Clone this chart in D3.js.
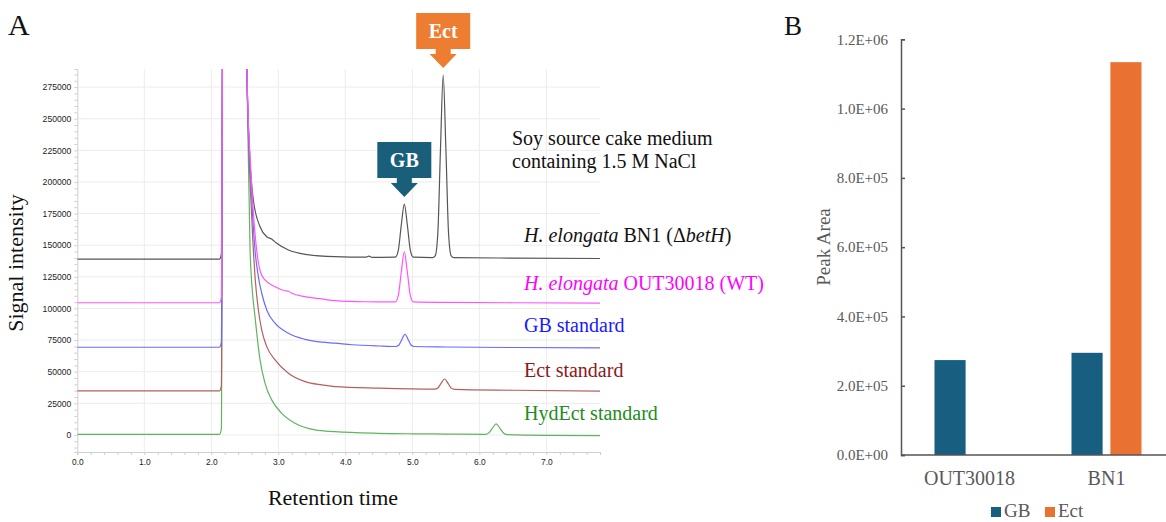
<!DOCTYPE html>
<html>
<head>
<meta charset="utf-8">
<script src="https://cdn.jsdelivr.net/npm/d3@7"></script>
<style>
  html, body { margin: 0; padding: 0; background: #fff; }
  svg { display: block; }
</style>
</head>
<body>
<svg id="chart" width="1166" height="522"></svg>
<script>
// ---------------- DATA ----------------
// Panel A: chromatogram traces, [retention time (min), signal]
const traceBN1 = [[0,139000],[2.12,139000],[2.15,143000],[2.175,400000],[2.50,400000],[2.53,290000],[2.577,217000],[2.627,185700],[2.727,164600],[2.827,156700],[2.90,154900],[2.976,151500],[3.15,146200],[3.40,142800],[3.85,140900],[4.30,140500],[4.35,141300],[4.40,140400],[4.745,140500],[4.79,146000],[4.835,166000],[4.88,182500],[4.925,166000],[4.97,146000],[5.015,140500],[5.30,140200],[5.34,141600],[5.38,159500],[5.42,226600],[5.46,284500],[5.50,226600],[5.54,159500],[5.58,141600],[5.62,140200],[6.5,139800],[7.8,139500]];
const traceWT = [[0,104500],[2.12,104500],[2.15,108500],[2.175,400000],[2.50,400000],[2.53,290000],[2.60,200000],[2.677,146000],[2.727,130000],[2.801,122500],[2.951,117200],[3.10,114000],[3.15,113600],[3.20,112000],[3.40,109300],[3.648,107500],[3.846,106100],[4.30,105300],[4.745,105200],[4.79,110200],[4.835,128800],[4.88,144800],[4.925,128800],[4.97,110200],[5.015,105200],[5.5,104800],[6.5,104500],[7.8,104200]];
const traceGBstd = [[0,69300],[2.12,69300],[2.15,73300],[2.175,400000],[2.50,400000],[2.53,290000],[2.60,190000],[2.652,146000],[2.702,125000],[2.752,112000],[2.827,98800],[2.951,88300],[3.15,80400],[3.40,75600],[3.648,73300],[3.846,72500],[4.10,71300],[4.50,70300],[4.75,69900],[4.80,71100],[4.845,75700],[4.89,79600],[4.935,75700],[4.98,71100],[5.03,69900],[5.5,69500],[6.5,69100],[7.8,68800]];
const traceEctStd = [[0,34800],[2.12,34800],[2.15,38800],[2.175,400000],[2.50,400000],[2.53,290000],[2.60,175000],[2.627,146000],[2.652,125000],[2.702,98800],[2.752,83000],[2.827,69800],[2.951,59300],[3.15,48800],[3.40,42100],[3.648,39500],[3.846,38200],[4.50,37000],[5.33,36200],[5.38,37100],[5.43,41000],[5.48,44200],[5.53,41000],[5.58,37000],[5.63,36000],[6.5,35300],[7.8,34600]];
const traceHydEctStd = [[0,500],[2.12,500],[2.15,4500],[2.175,400000],[2.50,400000],[2.53,290000],[2.578,146000],[2.603,120000],[2.652,93500],[2.727,59300],[2.801,40900],[2.901,27700],[3.051,17100],[3.249,9200],[3.548,4000],[3.846,2600],[4.50,1300],[5.0,900],[5.5,700],[6.09,450],[6.14,1600],[6.195,5400],[6.25,8700],[6.305,5400],[6.36,1500],[6.41,300],[7.0,-300],[7.8,-500]];

const traceNames = ["BN1","HydEct standard","Ect standard","GB standard","WT"];
const signalTicks = [0,25000,50000,75000,100000,125000,150000,175000,200000,225000,250000,275000];
const timeTicks = [0,1,2,3,4,5,6,7];

// Peak annotations (retention time, peak signal)
const peakLabels = ["GB","Ect"];
const peakTimes = [4.88, 5.46];
const peakSignals = [182500, 284500];

// Panel B: peak areas
const strains = ["OUT30018","BN1"];
const solutes = ["GB","Ect"];
const gbArea = [274000, 295000];
const ectArea = [0, 1134000];
const areaTicks = [0, 200000, 400000, 600000, 800000, 1000000, 1200000];

// ---------------- DRAW ----------------
const svg = d3.select("#chart");
const serif = "'Liberation Serif','Times New Roman',Times,serif";
const sans = "'Liberation Sans',Arial,Helvetica,sans-serif";

// ----- Panel A -----
const xA = d3.scaleLinear().domain([0, 7.8]).range([77.3, 600]);
const yA = d3.scaleLinear().domain([-13500, 289300]).range([452, 69]);

const gA = svg.append("g");

// gridlines
gA.append("g").selectAll("line").data(signalTicks).join("line")
  .attr("x1", xA(0)).attr("x2", xA(7.8))
  .attr("y1", d => yA(d)).attr("y2", d => yA(d))
  .attr("stroke", "#ececec").attr("stroke-width", 1);
gA.append("g").selectAll("line").data(timeTicks.slice(1)).join("line")
  .attr("x1", d => xA(d)).attr("x2", d => xA(d))
  .attr("y1", yA.range()[1]).attr("y2", yA.range()[0])
  .attr("stroke", "#ececec").attr("stroke-width", 1);

// y axis (minor ticks every 5000)
const yAxisA = d3.axisLeft(yA)
  .tickValues(d3.range(-10000, 289300, 5000))
  .tickSize(3)
  .tickFormat(d => signalTicks.includes(d) ? String(d) : "");
const gyA = gA.append("g").attr("transform", `translate(${xA(0)},0)`).call(yAxisA);
gyA.select(".domain").attr("stroke", "#cfcfcf");
gyA.selectAll(".tick line").attr("stroke", "#cfcfcf");
gyA.selectAll(".tick text").attr("font-family", sans).attr("font-size", 8.6)
  .attr("fill", "#222").attr("x", -6);

// x axis (minor ticks every 0.2)
const xAxisA = d3.axisBottom(xA)
  .tickValues(d3.range(0, 7.81, 0.2).map(v => +v.toFixed(1)))
  .tickSize(3)
  .tickFormat(d => Number.isInteger(d) ? d3.format(".1f")(d) : "");
const gxA = gA.append("g").attr("transform", `translate(0,${yA.range()[0]})`).call(xAxisA);
gxA.select(".domain").attr("stroke", "#cfcfcf");
gxA.selectAll(".tick line").attr("stroke", "#cfcfcf");
gxA.selectAll(".tick text").attr("font-family", sans).attr("font-size", 8.4)
  .attr("fill", "#222").attr("y", 7);

// clip
svg.append("defs").append("clipPath").attr("id", "clipA").append("rect")
  .attr("x", xA(0)).attr("y", yA.range()[1])
  .attr("width", xA(7.8) - xA(0)).attr("height", yA.range()[0] - yA.range()[1]);

const traces = [traceBN1, traceHydEctStd, traceEctStd, traceGBstd, traceWT];
const traceColors = ["#555555", "#5fb55f", "#b4605c", "#6a6aff", "#ff55ff"];
const line = d3.line().x(d => xA(d[0])).y(d => yA(d[1])).curve(d3.curveMonotoneX);
gA.append("g").attr("clip-path", "url(#clipA)")
  .selectAll("path").data(traces).join("path")
  .attr("d", line)
  .attr("fill", "none")
  .attr("stroke", (d, i) => traceColors[i])
  .attr("stroke-width", 1.2)
  .attr("stroke-linejoin", "round");

// trace labels
const labelX = 524;
const lab1 = gA.append("text").attr("x", labelX).attr("y", 241.7)
  .attr("font-family", serif).attr("font-size", 20).attr("fill", "#111");
lab1.append("tspan").attr("font-style", "italic").text("H. elongata");
lab1.append("tspan").text(" BN1 (\u0394");
lab1.append("tspan").attr("font-style", "italic").text("betH");
lab1.append("tspan").text(")");

const lab2 = gA.append("text").attr("x", labelX).attr("y", 290)
  .attr("font-family", serif).attr("font-size", 20).attr("fill", "#ff00ff");
lab2.append("tspan").attr("font-style", "italic").text("H. elongata");
lab2.append("tspan").text(" OUT30018 (WT)");

gA.append("text").attr("x", labelX).attr("y", 331.7)
  .attr("font-family", serif).attr("font-size", 20).attr("fill", "#1a1aff").text("GB standard");
gA.append("text").attr("x", labelX).attr("y", 377)
  .attr("font-family", serif).attr("font-size", 20).attr("fill", "#8b1a1a").text("Ect standard");
gA.append("text").attr("x", labelX).attr("y", 420)
  .attr("font-family", serif).attr("font-size", 20).attr("fill", "#238b23").text("HydEct standard");

// medium text
gA.append("text").attr("x", 512).attr("y", 145)
  .attr("font-family", serif).attr("font-size", 20).attr("fill", "#111").text("Soy source cake medium");
gA.append("text").attr("x", 512).attr("y", 168)
  .attr("font-family", serif).attr("font-size", 20).attr("fill", "#111").text("containing 1.5 M NaCl");

// peak arrows
const arrowColors = ["#1a5f7a", "#ed7d31"];
peakLabels.forEach((lbl, i) => {
  const tx = xA(peakTimes[i]);
  const ty = yA(peakSignals[i]) - 7;
  const headH = 14, headW = 13.5, stemH = 5, stemW = 7.5, boxW = 27, boxH = 36;
  const yHead = ty - headH, yStem = yHead - stemH, yBox = yStem - boxH;
  const p = d3.path();
  p.moveTo(tx, ty);
  p.lineTo(tx - headW, yHead);
  p.lineTo(tx - stemW, yHead);
  p.lineTo(tx - stemW, yStem);
  p.lineTo(tx - boxW, yStem);
  p.lineTo(tx - boxW, yBox);
  p.lineTo(tx + boxW, yBox);
  p.lineTo(tx + boxW, yStem);
  p.lineTo(tx + stemW, yStem);
  p.lineTo(tx + stemW, yHead);
  p.lineTo(tx + headW, yHead);
  p.closePath();
  gA.append("path").attr("d", p.toString()).attr("fill", arrowColors[i]);
  gA.append("text").attr("x", tx).attr("y", yBox + 25)
    .attr("text-anchor", "middle").attr("font-family", serif)
    .attr("font-weight", "bold").attr("font-size", 20).attr("fill", "#fff").text(lbl);
});

// axis titles
svg.append("text").attr("x", 8).attr("y", 35)
  .attr("font-family", serif).attr("font-size", 30).attr("fill", "#111").text("A");
svg.append("text").attr("transform", "translate(23,263) rotate(-90)")
  .attr("text-anchor", "middle").attr("font-family", serif).attr("font-size", 22)
  .attr("fill", "#111").text("Signal intensity");
svg.append("text").attr("x", 333).attr("y", 505)
  .attr("text-anchor", "middle").attr("font-family", serif).attr("font-size", 22)
  .attr("fill", "#111").text("Retention time");

// ----- Panel B -----
const yB = d3.scaleLinear().domain([0, 1200000]).range([455, 39.3]);
const xB = d3.scaleBand().domain(strains).range([901, 1175]).paddingInner(0).paddingOuter(0);
const bw = xB.bandwidth();
const x1 = d3.scaleBand().domain(solutes).range([bw / 2 - 35, bw / 2 + 35]).paddingInner(0.2);
const barColors = { GB: "#175e80", Ect: "#e97233" };
const areaData = strains.map((s, i) => ({ strain: s, values: [
  { key: "GB", value: gbArea[i] }, { key: "Ect", value: ectArea[i] } ] }));

const gB = svg.append("g");

gB.selectAll("g.grp").data(areaData).join("g").attr("class", "grp")
  .attr("transform", d => `translate(${xB(d.strain)},0)`)
  .selectAll("rect").data(d => d.values.filter(v => v.value > 0)).join("rect")
  .attr("x", d => x1(d.key)).attr("width", x1.bandwidth())
  .attr("y", d => yB(d.value)).attr("height", d => yB(0) - yB(d.value))
  .attr("fill", d => barColors[d.key]);

const fmtE = v => {
  const [m, e] = v.toExponential(1).split("e");
  const sign = e[0] === "-" ? "-" : "+";
  const ex = e.replace(/[+-]/, "").padStart(2, "0");
  return `${m}E${sign}${ex}`;
};
const yAxisB = d3.axisRight(yB).tickValues(areaTicks).tickSize(4).tickFormat("");
const gyB = gB.append("g").attr("transform", "translate(901,0)").call(yAxisB);
gyB.select(".domain").attr("stroke", "#555").attr("stroke-width", 1.5);
gyB.selectAll(".tick line").attr("stroke", "#555").attr("stroke-width", 1.5);
gB.append("g").selectAll("text").data(areaTicks).join("text")
  .attr("x", 888).attr("y", d => yB(d)).attr("dy", "0.35em")
  .attr("text-anchor", "end").attr("font-family", serif).attr("font-size", 15)
  .attr("fill", "#595959").text(fmtE);

gB.append("line").attr("x1", 901).attr("x2", 1166).attr("y1", yB(0)).attr("y2", yB(0))
  .attr("stroke", "#555").attr("stroke-width", 1.5);

gB.append("g").selectAll("text").data(strains).join("text")
  .attr("x", d => xB(d) + bw / 2).attr("y", 485)
  .attr("text-anchor", "middle").attr("font-family", serif).attr("font-size", 20)
  .attr("fill", "#595959").text(d => d);

svg.append("text").attr("x", 784).attr("y", 35)
  .attr("font-family", serif).attr("font-size", 27).attr("fill", "#111").text("B");
svg.append("text").attr("transform", "translate(830,247) rotate(-90)")
  .attr("text-anchor", "middle").attr("font-family", serif).attr("font-size", 19)
  .attr("fill", "#595959").text("Peak Area");

// legend
const legX = [991, 1045];
solutes.forEach((s, i) => {
  gB.append("rect").attr("x", legX[i]).attr("y", 507).attr("width", 10).attr("height", 10)
    .attr("fill", barColors[s]);
  gB.append("text").attr("x", legX[i] + 13).attr("y", 517)
    .attr("font-family", serif).attr("font-size", 19).attr("fill", "#595959").text(s);
});
</script>
</body>
</html>
